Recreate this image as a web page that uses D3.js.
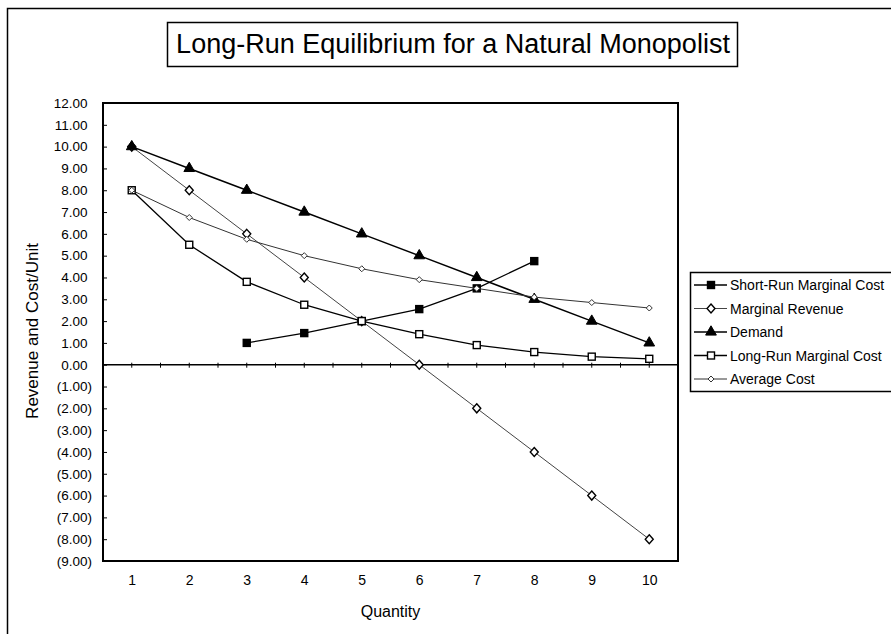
<!DOCTYPE html>
<html>
<head>
<meta charset="utf-8">
<script src="https://cdn.jsdelivr.net/npm/d3@7"></script>
<style>
	body { margin: 0; background: #fff; }
	svg { display: block; font-family: "Liberation Sans", Arial, sans-serif; }
</style>
</head>
<body>
<div id="chart"></div>
<script>
// les données
var quantites = [1, 2, 3, 4, 5, 6, 7, 8, 9, 10];
var coutMarginalCourt = [null, null, 1.0, 1.45, 2.0, 2.55, 3.5, 4.75, null, null];
var recetteMarginale = [10, 8, 6, 4, 2, 0, -2, -4, -6, -8];
var demande = [10, 9, 8, 7, 6, 5, 4, 3, 2, 1];
var coutMarginalLong = [8, 5.5, 3.8, 2.75, 2.0, 1.4, 0.9, 0.58, 0.37, 0.27];
var coutMoyen = [8, 6.75, 5.75, 5.0, 4.4, 3.9, 3.5, 3.1, 2.85, 2.6];
var yTicks = d3.range(-9, 13, 1);

var series = [
	{ nom: "Short-Run Marginal Cost", valeurs: coutMarginalCourt, marque: "carrePlein", couleur: "#000", epaisseur: 1.3 },
	{ nom: "Marginal Revenue", valeurs: recetteMarginale, marque: "losange", couleur: "#444", epaisseur: 1 },
	{ nom: "Demand", valeurs: demande, marque: "triangle", couleur: "#000", epaisseur: 1.5 },
	{ nom: "Long-Run Marginal Cost", valeurs: coutMarginalLong, marque: "carreVide", couleur: "#000", epaisseur: 1.3 },
	{ nom: "Average Cost", valeurs: coutMoyen, marque: "rond", couleur: "#333", epaisseur: 1 }
];

var width = 891, height = 634;
var plot = { left: 103, top: 103, right: 678, bottom: 561 };

var svg = d3.select("#chart").append("svg")
	.attr("width", width)
	.attr("height", height);

// cadre extérieur
svg.append("rect")
	.attr("x", 7.5).attr("y", 8.5)
	.attr("width", 900).attr("height", 640)
	.attr("fill", "none").attr("stroke", "#000").attr("stroke-width", 1.5);

// titre
svg.append("rect")
	.attr("x", 167.5).attr("y", 22.5)
	.attr("width", 570).attr("height", 44)
	.attr("fill", "none").attr("stroke", "#000").attr("stroke-width", 1.5);
svg.append("text")
	.attr("x", 453).attr("y", 53)
	.attr("text-anchor", "middle")
	.attr("font-size", 27)
	.text("Long-Run Equilibrium for a Natural Monopolist");

// échelles
var x = d3.scalePoint()
	.domain(quantites)
	.range([plot.left, plot.right])
	.padding(0.5);

var y = d3.scaleLinear()
	.domain([-9, 12])
	.range([plot.bottom, plot.top]);

// cadre du graphique
svg.append("rect")
	.attr("x", plot.left).attr("y", plot.top)
	.attr("width", plot.right - plot.left).attr("height", plot.bottom - plot.top)
	.attr("fill", "none").attr("stroke", "#000").attr("stroke-width", 2);

// axe Y (tirets vers l'intérieur)
var fmt = function (d) {
	var s = d3.format(".2f")(Math.abs(d));
	return d < 0 ? "(" + s + ")" : s;
};
var axeY = svg.append("g")
	.attr("transform", "translate(" + plot.left + ",0)")
	.call(d3.axisLeft(y).tickValues(yTicks).tickSizeInner(-4).tickSizeOuter(0).tickPadding(11).tickFormat(fmt));
axeY.select(".domain").remove();
axeY.selectAll("line").attr("stroke", "#000");
axeY.selectAll("text")
	.attr("font-size", 13.5)
	.attr("fill", "#000")
	.attr("x", function (d) { return d < 0 ? -11 : -15.5; });

// ligne du zéro
var axeZero = svg.append("g")
	.attr("transform", "translate(0," + y(0) + ")");
axeZero.append("line")
	.attr("x1", plot.left).attr("x2", plot.right)
	.attr("stroke", "#000").attr("stroke-width", 1.5);
var pas = x.step();
var tiretsZero = d3.range(0, 21).map(function (i) { return plot.left + i * pas / 2; });
axeZero.selectAll(".tiret").data(tiretsZero).enter().append("line")
	.attr("class", "tiret")
	.attr("x1", function (d) { return d; }).attr("x2", function (d) { return d; })
	.attr("y1", -2).attr("y2", 3)
	.attr("stroke", "#000");

// étiquettes X en bas
var axeX = svg.append("g")
	.attr("transform", "translate(0," + plot.bottom + ")")
	.call(d3.axisBottom(x).tickSize(0).tickPadding(14));
axeX.select(".domain").remove();
axeX.selectAll("text").attr("font-size", 14).attr("fill", "#000");

// titres des axes
svg.append("text")
	.attr("x", (plot.left + plot.right) / 2).attr("y", 617)
	.attr("text-anchor", "middle")
	.attr("font-size", 16)
	.text("Quantity");
svg.append("text")
	.attr("transform", "translate(38," + 331 + ") rotate(-90)")
	.attr("text-anchor", "middle")
	.attr("font-size", 17)
	.text("Revenue and Cost/Unit");

// marqueurs
function dessineMarque(g, type, cx, cy) {
	if (type === "carrePlein" || type === "carreVide") {
		g.append("rect")
			.attr("x", cx - 3.5).attr("y", cy - 3.5)
			.attr("width", 7).attr("height", 7)
			.attr("fill", type === "carrePlein" ? "#000" : "#fff")
			.attr("stroke", "#000").attr("stroke-width", 1.4);
	} else if (type === "losange") {
		g.append("path")
			.attr("d", "M0,-4.5L4,0L0,4.5L-4,0Z")
			.attr("transform", "translate(" + cx + "," + cy + ")")
			.attr("fill", "#fff").attr("stroke", "#000").attr("stroke-width", 1.4);
	} else if (type === "triangle") {
		g.append("path")
			.attr("d", d3.symbol().type(d3.symbolTriangle).size(50)())
			.attr("transform", "translate(" + cx + "," + cy + ")")
			.attr("fill", "#000").attr("stroke", "#000");
	} else {
		g.append("path")
			.attr("d", "M0,-3L3,0L0,3L-3,0Z")
			.attr("transform", "translate(" + cx + "," + cy + ")")
			.attr("fill", "#fff").attr("stroke", "#333").attr("stroke-width", 1);
	}
}

var ligne = d3.line()
	.defined(function (d) { return d.v !== null; })
	.x(function (d) { return x(d.q); })
	.y(function (d) { return y(d.v); });

series.forEach(function (s) {
	var pts = quantites.map(function (q, i) { return { q: q, v: s.valeurs[i] }; });
	var g = svg.append("g").attr("class", "serie");
	g.append("path")
		.datum(pts)
		.attr("d", ligne)
		.attr("fill", "none")
		.attr("stroke", s.couleur)
		.attr("stroke-width", s.epaisseur);
	pts.filter(function (d) { return d.v !== null; }).forEach(function (d) {
		dessineMarque(g, s.marque, x(d.q), y(d.v));
	});
});

// légende
var legende = svg.append("g");
legende.append("rect")
	.attr("x", 690.5).attr("y", 272.5)
	.attr("width", 220).attr("height", 119)
	.attr("fill", "#fff").attr("stroke", "#000").attr("stroke-width", 1.5);
series.forEach(function (s, i) {
	var ly = 285 + i * 23.5;
	var g = legende.append("g");
	g.append("line")
		.attr("x1", 694).attr("x2", 727)
		.attr("y1", ly).attr("y2", ly)
		.attr("stroke", s.couleur).attr("stroke-width", s.epaisseur);
	dessineMarque(g, s.marque, 711, ly);
	g.append("text")
		.attr("x", 730).attr("y", ly + 5)
		.attr("font-size", 14)
		.text(s.nom);
});
</script>
</body>
</html>
